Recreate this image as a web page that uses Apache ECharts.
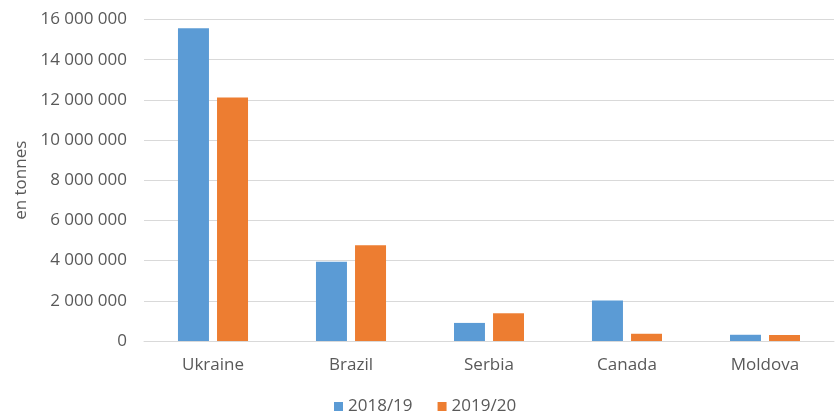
<!DOCTYPE html>
<html>
<head>
    <meta charset="utf-8">
    <title>ECharts</title>
    <script src="https://cdn.jsdelivr.net/npm/echarts@6/dist/echarts.min.js"></script>
    <style>
        html, body { margin: 0; padding: 0; background: #fff; }
    </style>
</head>
<body>
    <div id="main" style="width: 835px;height:419px;"></div>
    <script type="text/javascript">
        // data
        var countries = ['Ukraine', 'Brazil', 'Serbia', 'Canada', 'Moldova'];
        var seriesNames = ['2018/19', '2019/20'];
        var values1819 = [15560000, 3950000, 900000, 2010000, 310000];
        var values1920 = [12120000, 4770000, 1380000, 360000, 300000];
        var yTicks = [0, 2000000, 4000000, 6000000, 8000000, 10000000, 12000000, 14000000, 16000000];

        var textColor = '#595959';
        var fontName = '"Open Sans", "Noto Sans", sans-serif';

        // 16 000 000 style labels
        function fmt(v) {
            return String(v).replace(/\B(?=(\d{3})+(?!\d))/g, ' ');
        }

        var myChart = echarts.init(document.getElementById('main'));
        var option = {
            animation: false,
            textStyle: { fontFamily: fontName },
            grid: { left: 144, right: 1, top: 19.5, bottom: 78, containLabel: false },
            legend: {
                data: seriesNames,
                bottom: -1,
                left: 329,
                itemWidth: 9,
                itemHeight: 9,
                itemGap: 25,
                icon: 'rect',
                textStyle: { color: textColor, fontSize: 17, fontFamily: fontName }
            },
            xAxis: {
                type: 'category',
                data: countries,
                axisTick: { show: false },
                axisLine: { lineStyle: { color: '#d9d9d9', width: 1 } },
                axisLabel: { color: textColor, fontSize: 17, margin: 16, fontFamily: fontName }
            },
            yAxis: {
                type: 'value',
                min: yTicks[0],
                max: yTicks[yTicks.length - 1],
                interval: yTicks[1] - yTicks[0],
                name: 'en tonnes',
                nameLocation: 'middle',
                nameGap: 112,
                nameRotate: 90,
                nameTextStyle: { color: textColor, fontSize: 17, fontFamily: fontName },
                axisLine: { show: false },
                axisTick: { show: false },
                axisLabel: {
                    color: textColor, fontSize: 17, margin: 17, fontFamily: fontName,
                    formatter: function (v) { return fmt(v); }
                },
                splitLine: { lineStyle: { color: '#d9d9d9', width: 1 } }
            },
            series: [
                {
                    name: seriesNames[0],
                    type: 'bar',
                    data: values1819,
                    barWidth: 31,
                    barGap: '26%',
                    itemStyle: { color: '#5b9bd5' }
                },
                {
                    name: seriesNames[1],
                    type: 'bar',
                    data: values1920,
                    barWidth: 31,
                    barGap: '26%',
                    itemStyle: { color: '#ed7d31' }
                }
            ]
        };
        myChart.setOption(option);
    </script>
</body>
</html>
